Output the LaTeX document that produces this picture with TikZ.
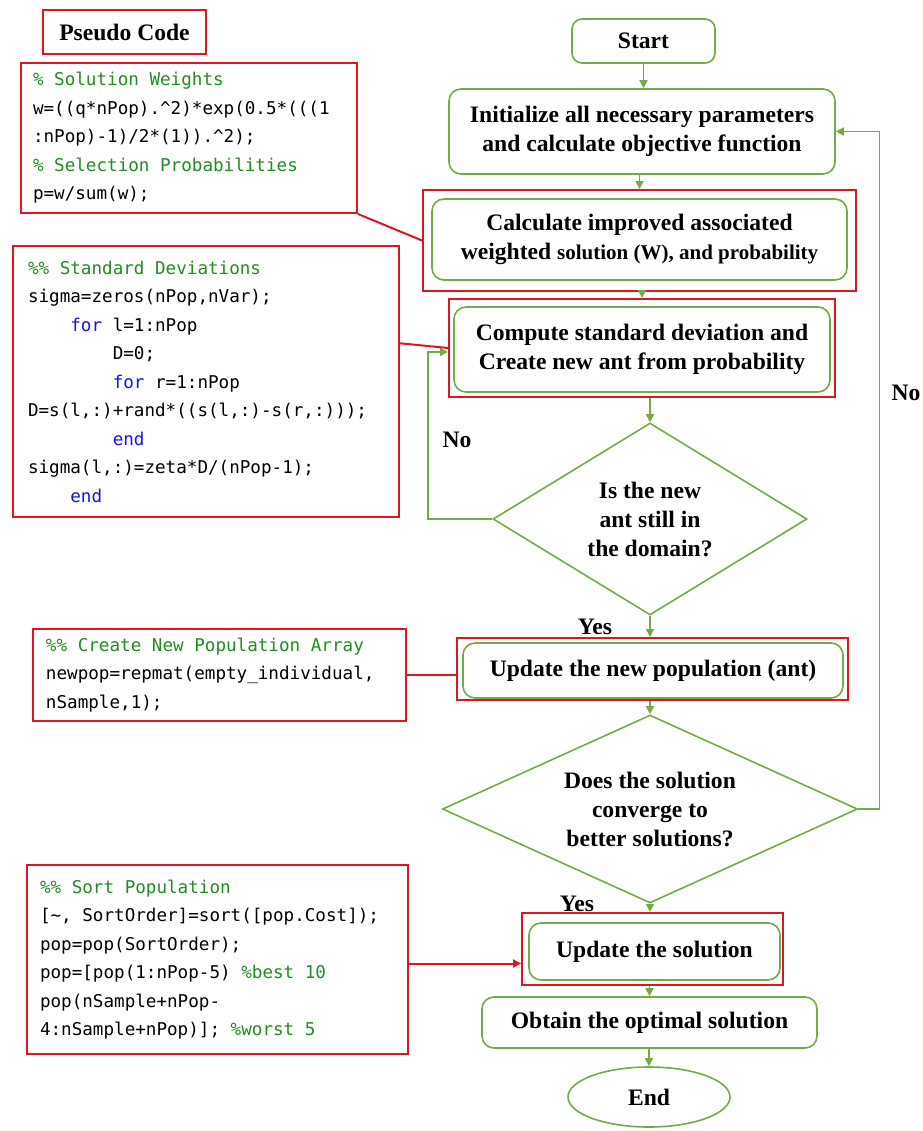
\documentclass[tikz,border=0pt]{standalone}
\usepackage{fontspec}
\setmainfont{Liberation Serif}
\newfontfamily\codefont{DejaVu Sans Mono}
\usepackage{xcolor}
\usetikzlibrary{positioning,shapes.geometric,arrows.meta,calc}
\definecolor{flowgreen}{RGB}{112,173,71}
\definecolor{codered}{RGB}{222,22,32}
\definecolor{codegreen}{RGB}{34,139,34}
\definecolor{codeblue}{RGB}{20,20,240}
\newcommand{\flowfont}{\fontsize{11.8}{14.5}\selectfont\bfseries}
\newcommand{\smallflow}{\fontsize{10.5}{14.5}\selectfont}
\newcommand{\codetext}{\codefont\fontsize{8.8}{14.25}\selectfont}
\newcommand{\codespace}{\frenchspacing\spaceskip=0.602em\relax\xspaceskip=0.602em\relax}
\newcommand{\cmt}[1]{\textcolor{codegreen}{#1}}
\newcommand{\kw}[1]{\textcolor{codeblue}{#1}}

\begin{document}
\begin{tikzpicture}[x=0.5pt, y=-0.5pt,
    flowbox/.style={rectangle, rounded corners=6pt, draw=flowgreen, line width=0.8pt, align=center, font=\flowfont, inner sep=0pt},
    framebox/.style={rectangle, draw=codered, line width=1pt, inner sep=0pt},
    decision/.style={diamond, aspect=1.6, draw=flowgreen, line width=0.8pt, align=center, font=\flowfont, inner sep=0pt},
    codebox/.style={rectangle, draw=codered, line width=1pt, anchor=north west, align=left, font=\codetext},
    answer/.style={font=\flowfont, inner sep=0pt},
    flowarrow/.style={draw=flowgreen, line width=0.8pt, -{Triangle[length=4pt,width=4pt]}},
    codeline/.style={draw=codered, line width=1pt},
    ]
    \useasboundingbox (0,0) rectangle (922,1131);

    %Code
    \node[rectangle, draw=codered, line width=1pt, font=\flowfont, minimum width=81.5pt, minimum height=22pt, anchor=north west] (pseudo) at (42,9) {Pseudo Code};
    \node[codebox, inner xsep=6pt, text width=156pt, minimum height=75pt] (weights) at (20,62) {\codespace
        \cmt{\% Solution Weights}\\
        w=((q*nPop).\textasciicircum2)*exp(0.5*(((1\\
        :nPop)-1)/2*(1)).\textasciicircum2);\\
        \cmt{\% Selection Probabilities}\\
        p=w/sum(w);};
    \node[codebox, inner xsep=7.5pt, text width=178pt, minimum height=135.5pt] (deviations) at (12,245) {\codespace
        \cmt{\%\% Standard Deviations}\\
        sigma=zeros(nPop,nVar);\\
        \phantom{0000}\kw{for} l=1:nPop\\
        \phantom{00000000}D=0;\\
        \phantom{00000000}\kw{for} r=1:nPop\\
        D=s(l,:)+rand*((s(l,:)-s(r,:)));\\
        \phantom{00000000}\kw{end}\\
        sigma(l,:)=zeta*D/(nPop-1);\\
        \phantom{0000}\kw{end}};
    \node[codebox, inner xsep=6.5pt, text width=173.5pt, minimum height=46pt] (newpop) at (32,628) {\codespace
        \cmt{\%\% Create New Population Array}\\
        newpop=repmat(empty\_individual,\\
        nSample,1);};
    \node[codebox, inner xsep=6.5pt, text width=177.5pt, minimum height=94.5pt] (sorting) at (26,864) {\codespace
        \cmt{\%\% Sort Population}\\{}[\textasciitilde, SortOrder]=sort([pop.Cost]);\\
        pop=pop(SortOrder);\\
        pop=[pop(1:nPop-5) \cmt{\%best 10}\\
        pop(nSample+nPop-\\
        4:nSample+nPop)]; \cmt{\%worst 5}};

    %Frames
    \node[framebox, minimum width=216.5pt, minimum height=50.5pt] (calcframe) at (639.5,240.5) {};
    \node[framebox, minimum width=193pt, minimum height=49pt] (cmpframe) at (642,348) {};
    \node[framebox, minimum width=195.5pt, minimum height=31pt] (updframe) at (652.5,669) {};
    \node[framebox, minimum width=130.5pt, minimum height=36pt] (solframe) at (652.5,949) {};

    %Nodes
    \node[flowbox, rounded corners=5pt, minimum width=71.5pt, minimum height=22pt] (start) at (643.5,41) {Start};
    \node[flowbox, minimum width=193pt, minimum height=42.5pt] (init) at (642,131.5) {Initialize all necessary parameters\\and calculate objective function};
    \node[flowbox, minimum width=207.5pt, minimum height=40.5pt] (calc) at (639.5,239.5) {Calculate improved associated\\weighted {\smallflow solution (W), and probability}};
    \node[flowbox, minimum width=188pt, minimum height=42.5pt] (cmp) at (642,349.5) {Compute standard deviation and\\Create new ant from probability};
    \node[decision, minimum width=157pt, minimum height=96pt] (dom) at (650,519) {Is the new\\ant still in\\the domain?};
    \node[flowbox, minimum width=190pt, minimum height=27.5pt] (upd) at (653,670.5) {Update the new population (ant)};
    \node[decision, minimum width=207.5pt, minimum height=94pt] (conv) at (650,809) {Does the solution\\converge to\\better solutions?};
    \node[flowbox, minimum width=125.5pt, minimum height=28.5pt] (sol) at (654.5,951.5) {Update the solution};
    \node[flowbox, minimum width=167.5pt, minimum height=25.5pt] (opt) at (649.5,1022.5) {Obtain the optimal solution};
    \node[ellipse, draw=flowgreen, line width=0.8pt, font=\flowfont, inner sep=0pt, minimum width=81pt, minimum height=30pt] (stop) at (649,1097) {End};

    %Labels
    \node[answer] (noleft) at (457,440) {No};
    \node[answer] (noright) at (906,393) {No};
    \node[answer] (yesdom) at (595,627) {Yes};
    \node[answer] (yesconv) at (577,904) {Yes};

    %Lines
    \draw[flowarrow] (start.south) -- (start.south |- init.north);
    \draw[flowarrow] (calcframe.north |- init.south) -- (calcframe.north);
    \draw[flowarrow] (cmpframe.north |- calcframe.south) -- (cmpframe.north);
    \draw[flowarrow] (dom.north |- cmpframe.south) -- (dom.north);
    \draw[flowarrow] (dom.south) -- (dom.south |- updframe.north);
    \draw[flowarrow] (conv.north |- updframe.south) -- (conv.north);
    \draw[flowarrow] (conv.south) -- (conv.south |- solframe.north);
    \draw[flowarrow] (opt.north |- solframe.south) -- (opt.north);
    \draw[flowarrow] (stop.north |- opt.south) -- (stop.north);
    \draw[flowarrow] (dom.west) -- ++(-64,0) |- ([yshift=-2pt]cmpframe.west);
    \draw[flowarrow] (conv.east) -- ++(21,0) |- (init.east);

    \draw[codeline] (weights.south east) -- (calcframe.west);
    \draw[codeline] ($(deviations.north east)!0.36!(deviations.south east)$) -- (cmpframe.west);
    \draw[codeline] (newpop.east) -- (newpop.east -| updframe.west);
    \draw[codeline, -{Triangle[length=4pt,width=4pt]}] ([yshift=-2pt]sorting.east) -- ([yshift=-2pt]sorting.east -| solframe.west);
\end{tikzpicture}
\end{document}
